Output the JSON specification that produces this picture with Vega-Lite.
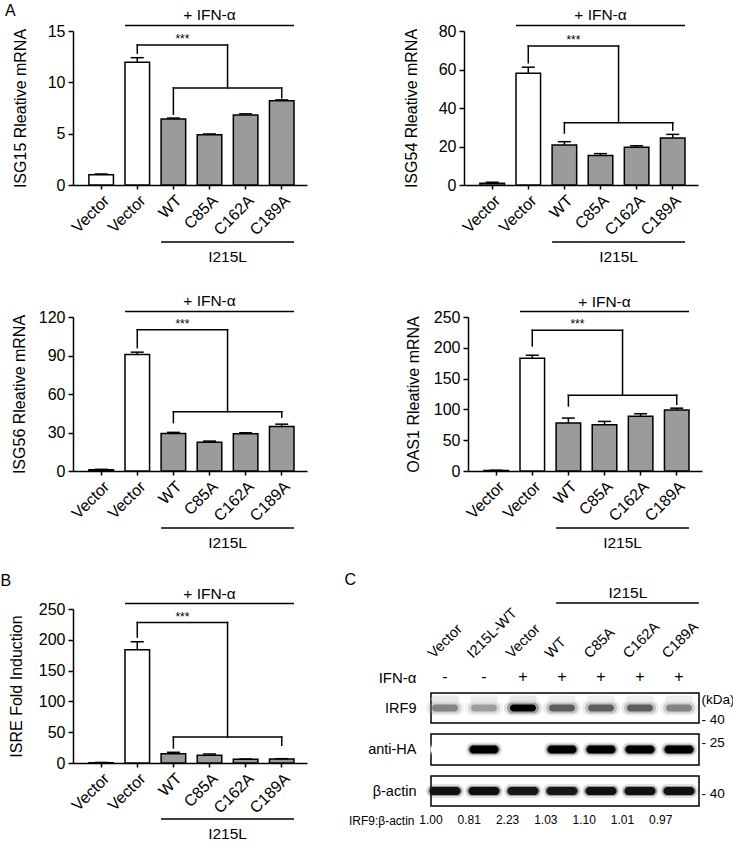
{
  "$schema": "https://vega.github.io/schema/vega-lite/v6.json",
  "padding": {"left": 0, "top": 3, "right": 0, "bottom": 0},
  "spacing": 20,
  "vconcat": [
    {
      "spacing": 28,
      "vconcat": [
        {
          "spacing": 95,
          "hconcat": [
            {
              "width": 234, "height": 154,
              "title": {"text": "A", "anchor": "start", "frame": "bounds", "dx": -7, "offset": -11},
              "resolve": {"axis": {"x": "independent", "y": "independent"}},
              "layer": [
                {"data": {"name": "isg15"}, "mark": {"type": "bar", "stroke": "black", "strokeWidth": 1.5},
                 "encoding": {
                   "x": {"field": "cat", "type": "nominal", "scale": {"domain": ["Vector|-", "Vector|+", "WT", "C85A", "C162A", "C189A"], "paddingInner": 0.32, "paddingOuter": 0.4, "align": 0.55}, "axis": {"title": null, "labelExpr": "split(datum.value, '|')[0]", "labelAngle": -45, "labelFontSize": 16, "tickSize": 4, "labelPadding": 3}},
                   "y": {"field": "value", "type": "quantitative", "scale": {"domain": [0, 15], "nice": false}, "axis": {"title": "ISG15 Rleative mRNA", "values": [0, 5, 10, 15], "labelOverlap": false, "titleX": -53, "titleBaseline": "middle", "tickSize": 5, "labelPadding": 3}},
                   "fill": {"field": "group", "type": "nominal", "scale": {"domain": ["control", "I215L"], "range": ["#ffffff", "#9b9b9b"]}, "legend": null}}},
                {"data": {"name": "isg15"}, "mark": {"type": "rule", "strokeWidth": 1.5},
                 "encoding": {"x": {"field": "cat", "type": "nominal", "axis": null}, "y": {"field": "value", "type": "quantitative", "axis": null}, "y2": {"field": "hi"}}},
                {"data": {"name": "isg15"}, "mark": {"type": "tick", "thickness": 1.5, "size": 13, "opacity": 1, "color": "black"},
                 "encoding": {"x": {"field": "cat", "type": "nominal", "axis": null}, "y": {"field": "hi", "type": "quantitative", "axis": null}}},
                {"data": {"name": "ann1"}, "transform": [{"filter": "datum.k == 'span'"}], "mark": {"type": "rule", "strokeWidth": 1.5},
                 "encoding": {"x": {"field": "a", "type": "nominal", "bandPosition": 0, "axis": null}, "x2": {"field": "b", "bandPosition": 1}, "y": {"field": "y", "type": "quantitative", "axis": null}}},
                {"data": {"name": "ann1"}, "transform": [{"filter": "datum.k == 'up'"}], "mark": {"type": "rule", "strokeWidth": 1.5, "strokeCap": "square"},
                 "encoding": {"x": {"field": "a", "type": "nominal", "axis": null}, "x2": {"field": "b", "bandPosition": 1.235}, "y": {"field": "y", "type": "quantitative", "axis": null}}},
                {"data": {"name": "ann1"}, "transform": [{"filter": "datum.k == 'lo'"}], "mark": {"type": "rule", "strokeWidth": 1.5, "strokeCap": "square"},
                 "encoding": {"x": {"field": "a", "type": "nominal", "axis": null}, "x2": {"field": "b"}, "y": {"field": "y", "type": "quantitative", "axis": null}}},
                {"data": {"name": "ann1"}, "transform": [{"filter": "datum.k == 'v'"}], "mark": {"type": "rule", "strokeWidth": 1.5, "strokeCap": "square"},
                 "encoding": {"x": {"field": "a", "type": "nominal", "axis": null}, "y": {"field": "y", "type": "quantitative", "axis": null}, "y2": {"field": "y2"}}},
                {"data": {"name": "ann1"}, "transform": [{"filter": "datum.k == 'mid'"}], "mark": {"type": "rule", "strokeWidth": 1.5, "strokeCap": "square"},
                 "encoding": {"x": {"field": "a", "type": "nominal", "bandPosition": 1.235, "axis": null}, "y": {"field": "y", "type": "quantitative", "axis": null}, "y2": {"field": "y2"}}},
                {"data": {"name": "ann1"}, "transform": [{"filter": "datum.k == 'tifn'"}], "mark": {"type": "text", "fontSize": 15.5, "baseline": "alphabetic", "dy": -5},
                 "encoding": {"x": {"field": "a", "type": "nominal", "axis": null}, "y": {"field": "y", "type": "quantitative", "axis": null}, "text": {"field": "label"}}},
                {"data": {"name": "ann1"}, "transform": [{"filter": "datum.k == 'tstar'"}], "mark": {"type": "text", "fontSize": 12, "baseline": "alphabetic", "dy": -2},
                 "encoding": {"x": {"field": "a", "type": "nominal", "bandPosition": 0.868, "axis": null}, "y": {"field": "y", "type": "quantitative", "axis": null}, "text": {"field": "label"}}},
                {"data": {"name": "ann1"}, "transform": [{"filter": "datum.k == 'ti'"}], "mark": {"type": "text", "fontSize": 15.5, "baseline": "alphabetic", "dy": 20},
                 "encoding": {"x": {"field": "a", "type": "nominal", "bandPosition": 1.235, "axis": null}, "y": {"field": "y", "type": "quantitative", "axis": null}, "text": {"field": "label"}}}
              ]
            },
            {
              "width": 234, "height": 154,
              "resolve": {"axis": {"x": "independent", "y": "independent"}},
              "layer": [
                {"data": {"name": "isg54"}, "mark": {"type": "bar", "stroke": "black", "strokeWidth": 1.5},
                 "encoding": {
                   "x": {"field": "cat", "type": "nominal", "scale": {"domain": ["Vector|-", "Vector|+", "WT", "C85A", "C162A", "C189A"], "paddingInner": 0.32, "paddingOuter": 0.4, "align": 0.55}, "axis": {"title": null, "labelExpr": "split(datum.value, '|')[0]", "labelAngle": -45, "labelFontSize": 16, "tickSize": 4, "labelPadding": 3}},
                   "y": {"field": "value", "type": "quantitative", "scale": {"domain": [0, 80], "nice": false}, "axis": {"title": "ISG54 Rleative mRNA", "values": [0, 20, 40, 60, 80], "labelOverlap": false, "titleX": -53, "titleBaseline": "middle", "tickSize": 5, "labelPadding": 3}},
                   "fill": {"field": "group", "type": "nominal", "scale": {"domain": ["control", "I215L"], "range": ["#ffffff", "#9b9b9b"]}, "legend": null}}},
                {"data": {"name": "isg54"}, "mark": {"type": "rule", "strokeWidth": 1.5},
                 "encoding": {"x": {"field": "cat", "type": "nominal", "axis": null}, "y": {"field": "value", "type": "quantitative", "axis": null}, "y2": {"field": "hi"}}},
                {"data": {"name": "isg54"}, "mark": {"type": "tick", "thickness": 1.5, "size": 13, "opacity": 1, "color": "black"},
                 "encoding": {"x": {"field": "cat", "type": "nominal", "axis": null}, "y": {"field": "hi", "type": "quantitative", "axis": null}}},
                {"data": {"name": "ann2"}, "transform": [{"filter": "datum.k == 'span'"}], "mark": {"type": "rule", "strokeWidth": 1.5},
                 "encoding": {"x": {"field": "a", "type": "nominal", "bandPosition": 0, "axis": null}, "x2": {"field": "b", "bandPosition": 1}, "y": {"field": "y", "type": "quantitative", "axis": null}}},
                {"data": {"name": "ann2"}, "transform": [{"filter": "datum.k == 'up'"}], "mark": {"type": "rule", "strokeWidth": 1.5, "strokeCap": "square"},
                 "encoding": {"x": {"field": "a", "type": "nominal", "axis": null}, "x2": {"field": "b", "bandPosition": 1.235}, "y": {"field": "y", "type": "quantitative", "axis": null}}},
                {"data": {"name": "ann2"}, "transform": [{"filter": "datum.k == 'lo'"}], "mark": {"type": "rule", "strokeWidth": 1.5, "strokeCap": "square"},
                 "encoding": {"x": {"field": "a", "type": "nominal", "axis": null}, "x2": {"field": "b"}, "y": {"field": "y", "type": "quantitative", "axis": null}}},
                {"data": {"name": "ann2"}, "transform": [{"filter": "datum.k == 'v'"}], "mark": {"type": "rule", "strokeWidth": 1.5, "strokeCap": "square"},
                 "encoding": {"x": {"field": "a", "type": "nominal", "axis": null}, "y": {"field": "y", "type": "quantitative", "axis": null}, "y2": {"field": "y2"}}},
                {"data": {"name": "ann2"}, "transform": [{"filter": "datum.k == 'mid'"}], "mark": {"type": "rule", "strokeWidth": 1.5, "strokeCap": "square"},
                 "encoding": {"x": {"field": "a", "type": "nominal", "bandPosition": 1.235, "axis": null}, "y": {"field": "y", "type": "quantitative", "axis": null}, "y2": {"field": "y2"}}},
                {"data": {"name": "ann2"}, "transform": [{"filter": "datum.k == 'tifn'"}], "mark": {"type": "text", "fontSize": 15.5, "baseline": "alphabetic", "dy": -5},
                 "encoding": {"x": {"field": "a", "type": "nominal", "axis": null}, "y": {"field": "y", "type": "quantitative", "axis": null}, "text": {"field": "label"}}},
                {"data": {"name": "ann2"}, "transform": [{"filter": "datum.k == 'tstar'"}], "mark": {"type": "text", "fontSize": 12, "baseline": "alphabetic", "dy": -2},
                 "encoding": {"x": {"field": "a", "type": "nominal", "bandPosition": 0.868, "axis": null}, "y": {"field": "y", "type": "quantitative", "axis": null}, "text": {"field": "label"}}},
                {"data": {"name": "ann2"}, "transform": [{"filter": "datum.k == 'ti'"}], "mark": {"type": "text", "fontSize": 15.5, "baseline": "alphabetic", "dy": 20},
                 "encoding": {"x": {"field": "a", "type": "nominal", "bandPosition": 1.235, "axis": null}, "y": {"field": "y", "type": "quantitative", "axis": null}, "text": {"field": "label"}}}
              ]
            }
          ]
        },
        {
          "spacing": 97,
          "hconcat": [
            {
              "width": 234, "height": 154,
              "resolve": {"axis": {"x": "independent", "y": "independent"}},
              "layer": [
                {"data": {"name": "isg56"}, "mark": {"type": "bar", "stroke": "black", "strokeWidth": 1.5},
                 "encoding": {
                   "x": {"field": "cat", "type": "nominal", "scale": {"domain": ["Vector|-", "Vector|+", "WT", "C85A", "C162A", "C189A"], "paddingInner": 0.32, "paddingOuter": 0.4, "align": 0.55}, "axis": {"title": null, "labelExpr": "split(datum.value, '|')[0]", "labelAngle": -45, "labelFontSize": 16, "tickSize": 4, "labelPadding": 3}},
                   "y": {"field": "value", "type": "quantitative", "scale": {"domain": [0, 120], "nice": false}, "axis": {"title": "ISG56 Rleative mRNA", "values": [0, 30, 60, 90, 120], "labelOverlap": false, "titleX": -54, "titleBaseline": "middle", "tickSize": 5, "labelPadding": 3}},
                   "fill": {"field": "group", "type": "nominal", "scale": {"domain": ["control", "I215L"], "range": ["#ffffff", "#9b9b9b"]}, "legend": null}}},
                {"data": {"name": "isg56"}, "mark": {"type": "rule", "strokeWidth": 1.5},
                 "encoding": {"x": {"field": "cat", "type": "nominal", "axis": null}, "y": {"field": "value", "type": "quantitative", "axis": null}, "y2": {"field": "hi"}}},
                {"data": {"name": "isg56"}, "mark": {"type": "tick", "thickness": 1.5, "size": 13, "opacity": 1, "color": "black"},
                 "encoding": {"x": {"field": "cat", "type": "nominal", "axis": null}, "y": {"field": "hi", "type": "quantitative", "axis": null}}},
                {"data": {"name": "ann3"}, "transform": [{"filter": "datum.k == 'span'"}], "mark": {"type": "rule", "strokeWidth": 1.5},
                 "encoding": {"x": {"field": "a", "type": "nominal", "bandPosition": 0, "axis": null}, "x2": {"field": "b", "bandPosition": 1}, "y": {"field": "y", "type": "quantitative", "axis": null}}},
                {"data": {"name": "ann3"}, "transform": [{"filter": "datum.k == 'up'"}], "mark": {"type": "rule", "strokeWidth": 1.5, "strokeCap": "square"},
                 "encoding": {"x": {"field": "a", "type": "nominal", "axis": null}, "x2": {"field": "b", "bandPosition": 1.235}, "y": {"field": "y", "type": "quantitative", "axis": null}}},
                {"data": {"name": "ann3"}, "transform": [{"filter": "datum.k == 'lo'"}], "mark": {"type": "rule", "strokeWidth": 1.5, "strokeCap": "square"},
                 "encoding": {"x": {"field": "a", "type": "nominal", "axis": null}, "x2": {"field": "b"}, "y": {"field": "y", "type": "quantitative", "axis": null}}},
                {"data": {"name": "ann3"}, "transform": [{"filter": "datum.k == 'v'"}], "mark": {"type": "rule", "strokeWidth": 1.5, "strokeCap": "square"},
                 "encoding": {"x": {"field": "a", "type": "nominal", "axis": null}, "y": {"field": "y", "type": "quantitative", "axis": null}, "y2": {"field": "y2"}}},
                {"data": {"name": "ann3"}, "transform": [{"filter": "datum.k == 'mid'"}], "mark": {"type": "rule", "strokeWidth": 1.5, "strokeCap": "square"},
                 "encoding": {"x": {"field": "a", "type": "nominal", "bandPosition": 1.235, "axis": null}, "y": {"field": "y", "type": "quantitative", "axis": null}, "y2": {"field": "y2"}}},
                {"data": {"name": "ann3"}, "transform": [{"filter": "datum.k == 'tifn'"}], "mark": {"type": "text", "fontSize": 15.5, "baseline": "alphabetic", "dy": -5},
                 "encoding": {"x": {"field": "a", "type": "nominal", "axis": null}, "y": {"field": "y", "type": "quantitative", "axis": null}, "text": {"field": "label"}}},
                {"data": {"name": "ann3"}, "transform": [{"filter": "datum.k == 'tstar'"}], "mark": {"type": "text", "fontSize": 12, "baseline": "alphabetic", "dy": -2},
                 "encoding": {"x": {"field": "a", "type": "nominal", "bandPosition": 0.868, "axis": null}, "y": {"field": "y", "type": "quantitative", "axis": null}, "text": {"field": "label"}}},
                {"data": {"name": "ann3"}, "transform": [{"filter": "datum.k == 'ti'"}], "mark": {"type": "text", "fontSize": 15.5, "baseline": "alphabetic", "dy": 20},
                 "encoding": {"x": {"field": "a", "type": "nominal", "bandPosition": 1.235, "axis": null}, "y": {"field": "y", "type": "quantitative", "axis": null}, "text": {"field": "label"}}}
              ]
            },
            {
              "width": 234, "height": 154,
              "resolve": {"axis": {"x": "independent", "y": "independent"}},
              "layer": [
                {"data": {"name": "oas1"}, "mark": {"type": "bar", "stroke": "black", "strokeWidth": 1.5},
                 "encoding": {
                   "x": {"field": "cat", "type": "nominal", "scale": {"domain": ["Vector|-", "Vector|+", "WT", "C85A", "C162A", "C189A"], "paddingInner": 0.32, "paddingOuter": 0.4, "align": 0.55}, "axis": {"title": null, "labelExpr": "split(datum.value, '|')[0]", "labelAngle": -45, "labelFontSize": 16, "tickSize": 4, "labelPadding": 3}},
                   "y": {"field": "value", "type": "quantitative", "scale": {"domain": [0, 250], "nice": false}, "axis": {"title": "OAS1 Rleative mRNA", "values": [0, 50, 100, 150, 200, 250], "labelOverlap": false, "titleX": -55, "titleBaseline": "middle", "tickSize": 5, "labelPadding": 3}},
                   "fill": {"field": "group", "type": "nominal", "scale": {"domain": ["control", "I215L"], "range": ["#ffffff", "#9b9b9b"]}, "legend": null}}},
                {"data": {"name": "oas1"}, "mark": {"type": "rule", "strokeWidth": 1.5},
                 "encoding": {"x": {"field": "cat", "type": "nominal", "axis": null}, "y": {"field": "value", "type": "quantitative", "axis": null}, "y2": {"field": "hi"}}},
                {"data": {"name": "oas1"}, "mark": {"type": "tick", "thickness": 1.5, "size": 13, "opacity": 1, "color": "black"},
                 "encoding": {"x": {"field": "cat", "type": "nominal", "axis": null}, "y": {"field": "hi", "type": "quantitative", "axis": null}}},
                {"data": {"name": "ann4"}, "transform": [{"filter": "datum.k == 'span'"}], "mark": {"type": "rule", "strokeWidth": 1.5},
                 "encoding": {"x": {"field": "a", "type": "nominal", "bandPosition": 0, "axis": null}, "x2": {"field": "b", "bandPosition": 1}, "y": {"field": "y", "type": "quantitative", "axis": null}}},
                {"data": {"name": "ann4"}, "transform": [{"filter": "datum.k == 'up'"}], "mark": {"type": "rule", "strokeWidth": 1.5, "strokeCap": "square"},
                 "encoding": {"x": {"field": "a", "type": "nominal", "axis": null}, "x2": {"field": "b", "bandPosition": 1.235}, "y": {"field": "y", "type": "quantitative", "axis": null}}},
                {"data": {"name": "ann4"}, "transform": [{"filter": "datum.k == 'lo'"}], "mark": {"type": "rule", "strokeWidth": 1.5, "strokeCap": "square"},
                 "encoding": {"x": {"field": "a", "type": "nominal", "axis": null}, "x2": {"field": "b"}, "y": {"field": "y", "type": "quantitative", "axis": null}}},
                {"data": {"name": "ann4"}, "transform": [{"filter": "datum.k == 'v'"}], "mark": {"type": "rule", "strokeWidth": 1.5, "strokeCap": "square"},
                 "encoding": {"x": {"field": "a", "type": "nominal", "axis": null}, "y": {"field": "y", "type": "quantitative", "axis": null}, "y2": {"field": "y2"}}},
                {"data": {"name": "ann4"}, "transform": [{"filter": "datum.k == 'mid'"}], "mark": {"type": "rule", "strokeWidth": 1.5, "strokeCap": "square"},
                 "encoding": {"x": {"field": "a", "type": "nominal", "bandPosition": 1.235, "axis": null}, "y": {"field": "y", "type": "quantitative", "axis": null}, "y2": {"field": "y2"}}},
                {"data": {"name": "ann4"}, "transform": [{"filter": "datum.k == 'tifn'"}], "mark": {"type": "text", "fontSize": 15.5, "baseline": "alphabetic", "dy": -5},
                 "encoding": {"x": {"field": "a", "type": "nominal", "axis": null}, "y": {"field": "y", "type": "quantitative", "axis": null}, "text": {"field": "label"}}},
                {"data": {"name": "ann4"}, "transform": [{"filter": "datum.k == 'tstar'"}], "mark": {"type": "text", "fontSize": 12, "baseline": "alphabetic", "dy": -2},
                 "encoding": {"x": {"field": "a", "type": "nominal", "bandPosition": 0.868, "axis": null}, "y": {"field": "y", "type": "quantitative", "axis": null}, "text": {"field": "label"}}},
                {"data": {"name": "ann4"}, "transform": [{"filter": "datum.k == 'ti'"}], "mark": {"type": "text", "fontSize": 15.5, "baseline": "alphabetic", "dy": 20},
                 "encoding": {"x": {"field": "a", "type": "nominal", "bandPosition": 1.235, "axis": null}, "y": {"field": "y", "type": "quantitative", "axis": null}, "text": {"field": "label"}}}
              ]
            }
          ]
        }
      ]
    },
    {
      "concat": [
        {
          "width": 234, "height": 154,
          "title": {"text": "B", "anchor": "start", "frame": "bounds", "dx": -7.5, "offset": -2},
          "resolve": {"axis": {"x": "independent", "y": "independent"}},
          "layer": [
            {"data": {"name": "isre"}, "mark": {"type": "bar", "stroke": "black", "strokeWidth": 1.5},
             "encoding": {
               "x": {"field": "cat", "type": "nominal", "scale": {"domain": ["Vector|-", "Vector|+", "WT", "C85A", "C162A", "C189A"], "paddingInner": 0.32, "paddingOuter": 0.4, "align": 0.55}, "axis": {"title": null, "labelExpr": "split(datum.value, '|')[0]", "labelAngle": -45, "labelFontSize": 16, "tickSize": 4, "labelPadding": 3}},
               "y": {"field": "value", "type": "quantitative", "scale": {"domain": [0, 250], "nice": false}, "axis": {"title": "ISRE Fold Induction", "values": [0, 50, 100, 150, 200, 250], "labelOverlap": false, "titleX": -57, "titleBaseline": "middle", "tickSize": 5, "labelPadding": 3}},
               "fill": {"field": "group", "type": "nominal", "scale": {"domain": ["control", "I215L"], "range": ["#ffffff", "#9b9b9b"]}, "legend": null}}},
            {"data": {"name": "isre"}, "mark": {"type": "rule", "strokeWidth": 1.5},
             "encoding": {"x": {"field": "cat", "type": "nominal", "axis": null}, "y": {"field": "value", "type": "quantitative", "axis": null}, "y2": {"field": "hi"}}},
            {"data": {"name": "isre"}, "mark": {"type": "tick", "thickness": 1.5, "size": 13, "opacity": 1, "color": "black"},
             "encoding": {"x": {"field": "cat", "type": "nominal", "axis": null}, "y": {"field": "hi", "type": "quantitative", "axis": null}}},
            {"data": {"name": "ann5"}, "transform": [{"filter": "datum.k == 'span'"}], "mark": {"type": "rule", "strokeWidth": 1.5},
             "encoding": {"x": {"field": "a", "type": "nominal", "bandPosition": 0, "axis": null}, "x2": {"field": "b", "bandPosition": 1}, "y": {"field": "y", "type": "quantitative", "axis": null}}},
            {"data": {"name": "ann5"}, "transform": [{"filter": "datum.k == 'up'"}], "mark": {"type": "rule", "strokeWidth": 1.5, "strokeCap": "square"},
             "encoding": {"x": {"field": "a", "type": "nominal", "axis": null}, "x2": {"field": "b", "bandPosition": 1.235}, "y": {"field": "y", "type": "quantitative", "axis": null}}},
            {"data": {"name": "ann5"}, "transform": [{"filter": "datum.k == 'lo'"}], "mark": {"type": "rule", "strokeWidth": 1.5, "strokeCap": "square"},
             "encoding": {"x": {"field": "a", "type": "nominal", "axis": null}, "x2": {"field": "b"}, "y": {"field": "y", "type": "quantitative", "axis": null}}},
            {"data": {"name": "ann5"}, "transform": [{"filter": "datum.k == 'v'"}], "mark": {"type": "rule", "strokeWidth": 1.5, "strokeCap": "square"},
             "encoding": {"x": {"field": "a", "type": "nominal", "axis": null}, "y": {"field": "y", "type": "quantitative", "axis": null}, "y2": {"field": "y2"}}},
            {"data": {"name": "ann5"}, "transform": [{"filter": "datum.k == 'mid'"}], "mark": {"type": "rule", "strokeWidth": 1.5, "strokeCap": "square"},
             "encoding": {"x": {"field": "a", "type": "nominal", "bandPosition": 1.235, "axis": null}, "y": {"field": "y", "type": "quantitative", "axis": null}, "y2": {"field": "y2"}}},
            {"data": {"name": "ann5"}, "transform": [{"filter": "datum.k == 'tifn'"}], "mark": {"type": "text", "fontSize": 15.5, "baseline": "alphabetic", "dy": -5},
             "encoding": {"x": {"field": "a", "type": "nominal", "axis": null}, "y": {"field": "y", "type": "quantitative", "axis": null}, "text": {"field": "label"}}},
            {"data": {"name": "ann5"}, "transform": [{"filter": "datum.k == 'tstar'"}], "mark": {"type": "text", "fontSize": 12, "baseline": "alphabetic", "dy": -2},
             "encoding": {"x": {"field": "a", "type": "nominal", "bandPosition": 0.868, "axis": null}, "y": {"field": "y", "type": "quantitative", "axis": null}, "text": {"field": "label"}}},
            {"data": {"name": "ann5"}, "transform": [{"filter": "datum.k == 'ti'"}], "mark": {"type": "text", "fontSize": 15.5, "baseline": "alphabetic", "dy": 20},
             "encoding": {"x": {"field": "a", "type": "nominal", "bandPosition": 1.235, "axis": null}, "y": {"field": "y", "type": "quantitative", "axis": null}, "text": {"field": "label"}}}
          ]
        },
        {
          "title": {"text": "C", "anchor": "start", "frame": "bounds", "dx": -4, "offset": -2},
          "spacing": 11,
          "bounds": "flush",
          "vconcat": [
            {
              "width": 268, "height": 73,
              "layer": [
                {"data": {"name": "lanes"}, "mark": {"type": "text", "angle": 315, "align": "left", "baseline": "alphabetic", "fontSize": 14.5},
                 "encoding": {"x": {"field": "lane", "type": "nominal", "bandPosition": 0.1, "scale": {"domain": ["Vector|-", "I215L-WT", "Vector|+", "WT", "C85A", "C162A", "C189A"], "paddingInner": 0.282, "paddingOuter": 0.077, "align": 0}, "axis": null},
                              "y": {"datum": 0.315, "type": "quantitative", "scale": {"domain": [0, 1], "nice": false}},
                              "text": {"field": "label"}}},
                {"data": {"name": "lanes"}, "mark": {"type": "text", "fontSize": 16, "baseline": "middle"},
                 "encoding": {"x": {"field": "lane", "type": "nominal", "axis": null},
                              "y": {"datum": 0.068, "type": "quantitative", "axis": {"values": [0.068], "labelExpr": "'IFN-α'", "ticks": false, "tickSize": 0, "domain": false, "labelPadding": 15, "labelFontSize": 15, "title": null}},
                              "text": {"field": "ifn"}}},
                {"data": {"values": [{"a": "WT", "b": "C189A"}]}, "mark": {"type": "rule", "strokeWidth": 1.5},
                 "encoding": {"x": {"field": "a", "type": "nominal", "bandPosition": 0.29, "axis": null}, "x2": {"field": "b", "bandPosition": 1.21}, "y": {"datum": 1.082, "type": "quantitative"}}},
                {"data": {"values": [{"a": "C162A", "t": "I215L"}]}, "mark": {"type": "text", "fontSize": 15.5, "baseline": "alphabetic", "dy": -5},
                 "encoding": {"x": {"field": "a", "type": "nominal", "bandPosition": 0.07, "axis": null}, "y": {"datum": 1.082, "type": "quantitative"}, "text": {"field": "t"}}}
              ]
            },
            {
              "width": 268, "height": 30,
              "view": {"stroke": "black", "strokeWidth": 1.5},
              "data": {"name": "lanes"},
              "layer": [
                {"mark": {"type": "tick", "size": 38, "thickness": 15, "cornerRadius": 7.5, "opacity": 0.12},
                 "encoding": {"x": {"field": "lane", "type": "nominal", "scale": {"domain": ["Vector|-", "I215L-WT", "Vector|+", "WT", "C85A", "C162A", "C189A"], "paddingInner": 0.282, "paddingOuter": 0.077, "align": 0}, "axis": null},
                              "y": {"datum": 0.5, "type": "quantitative", "scale": {"domain": [0, 1], "nice": false}, "axis": {"values": [0.5], "labelExpr": "'IRF9'", "ticks": false, "tickSize": 0, "domain": false, "labelPadding": 15, "labelFontSize": 14.5, "title": null}},
                              "color": {"field": "irf9", "type": "quantitative", "scale": {"domain": [0, 1], "range": ["#ffffff", "#000000"]}, "legend": null}}},
                {"mark": {"type": "tick", "size": 32, "thickness": 11, "cornerRadius": 5.5, "opacity": 0.3},
                 "encoding": {"x": {"field": "lane", "type": "nominal", "axis": null},
                              "y": {"datum": 0.5, "type": "quantitative", "axis": {"orient": "right", "values": [0.13, 0.77], "labelExpr": "datum.value > 0.5 ? '(kDa)' : '- 40'", "ticks": false, "tickSize": 0, "domain": false, "labelPadding": 2, "labelFontSize": 13.5, "title": null}},
                              "color": {"field": "irf9", "type": "quantitative", "legend": null}}},
                {"mark": {"type": "tick", "size": 26, "thickness": 7, "cornerRadius": 3.5, "opacity": 1},
                 "encoding": {"x": {"field": "lane", "type": "nominal", "axis": null},
                              "y": {"datum": 0.5, "type": "quantitative", "axis": null},
                              "color": {"field": "irf9", "type": "quantitative", "legend": null}}},
                {"mark": {"type": "tick", "size": 28, "thickness": 7, "cornerRadius": 3.5, "opacity": 0.5},
                 "encoding": {"x": {"field": "lane", "type": "nominal", "axis": null},
                              "y": {"datum": 0.8, "type": "quantitative", "axis": null},
                              "color": {"field": "irf9b", "type": "quantitative", "legend": null}}}
              ],
              "resolve": {"axis": {"y": "independent"}}
            },
            {
              "width": 268, "height": 31,
              "view": {"stroke": "black", "strokeWidth": 1.5},
              "data": {"name": "lanes"},
              "layer": [
                {"mark": {"type": "tick", "size": 36, "thickness": 14, "cornerRadius": 7, "opacity": 0.12},
                 "encoding": {"x": {"field": "lane", "type": "nominal", "scale": {"domain": ["Vector|-", "I215L-WT", "Vector|+", "WT", "C85A", "C162A", "C189A"], "paddingInner": 0.282, "paddingOuter": 0.077, "align": 0}, "axis": null},
                              "y": {"datum": 0.5, "type": "quantitative", "scale": {"domain": [0, 1], "nice": false}, "axis": {"values": [0.5], "labelExpr": "'anti-HA'", "ticks": false, "tickSize": 0, "domain": false, "labelPadding": 15, "labelFontSize": 14.5, "title": null}},
                              "color": {"field": "ha", "type": "quantitative", "scale": {"domain": [0, 1], "range": ["#ffffff", "#000000"]}, "legend": null}}},
                {"mark": {"type": "tick", "size": 32, "thickness": 10, "cornerRadius": 5, "opacity": 0.35},
                 "encoding": {"x": {"field": "lane", "type": "nominal", "axis": null},
                              "y": {"datum": 0.5, "type": "quantitative", "axis": {"orient": "right", "values": [0.71], "labelExpr": "'- 25'", "ticks": false, "tickSize": 0, "domain": false, "labelPadding": 2, "labelFontSize": 13.5, "title": null}},
                              "color": {"field": "ha", "type": "quantitative", "legend": null}}},
                {"mark": {"type": "tick", "size": 29, "thickness": 8, "cornerRadius": 4, "opacity": 1},
                 "encoding": {"x": {"field": "lane", "type": "nominal", "axis": null},
                              "y": {"datum": 0.5, "type": "quantitative", "axis": null},
                              "color": {"field": "ha", "type": "quantitative", "legend": null}}}
              ],
              "resolve": {"axis": {"y": "independent"}}
            },
            {
              "width": 268, "height": 30,
              "view": {"stroke": "black", "strokeWidth": 1.5},
              "data": {"name": "lanes"},
              "layer": [
                {"mark": {"type": "tick", "size": 38, "thickness": 14, "cornerRadius": 7, "opacity": 0.12},
                 "encoding": {"x": {"field": "lane", "type": "nominal", "scale": {"domain": ["Vector|-", "I215L-WT", "Vector|+", "WT", "C85A", "C162A", "C189A"], "paddingInner": 0.282, "paddingOuter": 0.077, "align": 0}, "axis": null},
                              "y": {"datum": 0.5, "type": "quantitative", "scale": {"domain": [0, 1], "nice": false}, "axis": {"values": [0.5], "labelExpr": "'β-actin'", "ticks": false, "tickSize": 0, "domain": false, "labelPadding": 15, "labelFontSize": 14.5, "title": null}},
                              "color": {"field": "actin", "type": "quantitative", "scale": {"domain": [0, 1], "range": ["#ffffff", "#000000"]}, "legend": null}}},
                {"mark": {"type": "tick", "size": 34, "thickness": 10, "cornerRadius": 5, "opacity": 0.35},
                 "encoding": {"x": {"field": "lane", "type": "nominal", "axis": null},
                              "y": {"datum": 0.5, "type": "quantitative", "axis": {"orient": "right", "values": [0.43], "labelExpr": "'- 40'", "ticks": false, "tickSize": 0, "domain": false, "labelPadding": 2, "labelFontSize": 13.5, "title": null}},
                              "color": {"field": "actin", "type": "quantitative", "legend": null}}},
                {"mark": {"type": "tick", "size": 31, "thickness": 8, "cornerRadius": 4, "opacity": 1},
                 "encoding": {"x": {"field": "lane", "type": "nominal", "axis": null},
                              "y": {"datum": 0.5, "type": "quantitative", "axis": null},
                              "color": {"field": "actin", "type": "quantitative", "legend": null}}}
              ],
              "resolve": {"axis": {"y": "independent"}}
            },
            {
              "width": 268, "height": 6,
              "data": {"name": "lanes"},
              "mark": {"type": "text", "fontSize": 12, "baseline": "middle"},
              "encoding": {"x": {"field": "lane", "type": "nominal", "scale": {"domain": ["Vector|-", "I215L-WT", "Vector|+", "WT", "C85A", "C162A", "C189A"], "paddingInner": 0.282, "paddingOuter": 0.077, "align": 0}, "axis": null},
                           "y": {"datum": 0.5, "type": "quantitative", "scale": {"domain": [0, 1], "nice": false}, "axis": {"values": [0.5], "labelExpr": "'IRF9:β-actin'", "ticks": false, "tickSize": 0, "domain": false, "labelPadding": 17, "labelFontSize": 12, "title": null}},
                           "text": {"field": "ratio"}}
            }
          ]
        }
      ],
      "columns": 2,
      "spacing": 37
    }
  ],
  "datasets": {
    "isg15": [
      {"cat": "Vector|-", "group": "control", "value": 1.0, "hi": 1.07},
      {"cat": "Vector|+", "group": "control", "value": 11.95, "hi": 12.4},
      {"cat": "WT", "group": "I215L", "value": 6.42, "hi": 6.52},
      {"cat": "C85A", "group": "I215L", "value": 4.9, "hi": 4.97},
      {"cat": "C162A", "group": "I215L", "value": 6.82, "hi": 6.93},
      {"cat": "C189A", "group": "I215L", "value": 8.2, "hi": 8.29}
    ],
    "isg54": [
      {"cat": "Vector|-", "group": "control", "value": 0.9, "hi": 1.4},
      {"cat": "Vector|+", "group": "control", "value": 58.0, "hi": 61.2},
      {"cat": "WT", "group": "I215L", "value": 20.8, "hi": 22.5},
      {"cat": "C85A", "group": "I215L", "value": 15.3, "hi": 16.3},
      {"cat": "C162A", "group": "I215L", "value": 19.6, "hi": 20.4},
      {"cat": "C189A", "group": "I215L", "value": 24.4, "hi": 26.3}
    ],
    "isg56": [
      {"cat": "Vector|-", "group": "control", "value": 1.0, "hi": 1.3},
      {"cat": "Vector|+", "group": "control", "value": 90.8, "hi": 92.6},
      {"cat": "WT", "group": "I215L", "value": 29.3, "hi": 30.1},
      {"cat": "C85A", "group": "I215L", "value": 22.5, "hi": 23.3},
      {"cat": "C162A", "group": "I215L", "value": 29.0, "hi": 29.8},
      {"cat": "C189A", "group": "I215L", "value": 34.7, "hi": 36.5}
    ],
    "oas1": [
      {"cat": "Vector|-", "group": "control", "value": 0.8, "hi": 1.2},
      {"cat": "Vector|+", "group": "control", "value": 183.0, "hi": 187.9},
      {"cat": "WT", "group": "I215L", "value": 77.8, "hi": 85.9},
      {"cat": "C85A", "group": "I215L", "value": 75.0, "hi": 80.5},
      {"cat": "C162A", "group": "I215L", "value": 89.0, "hi": 92.9},
      {"cat": "C189A", "group": "I215L", "value": 99.0, "hi": 102.0}
    ],
    "isre": [
      {"cat": "Vector|-", "group": "control", "value": 0.6, "hi": 0.9},
      {"cat": "Vector|+", "group": "control", "value": 183.8, "hi": 196.8},
      {"cat": "WT", "group": "I215L", "value": 15.2, "hi": 17.4},
      {"cat": "C85A", "group": "I215L", "value": 12.5, "hi": 14.6},
      {"cat": "C162A", "group": "I215L", "value": 6.0, "hi": 6.5},
      {"cat": "C189A", "group": "I215L", "value": 6.5, "hi": 7.0}
    ],
    "ann1": [
      {"k": "span", "a": "Vector|+", "b": "C189A", "y": 15.54},
      {"k": "span", "a": "WT", "b": "C189A", "y": -5.55},
      {"k": "up", "a": "Vector|+", "b": "C85A", "y": 13.63},
      {"k": "lo", "a": "WT", "b": "C189A", "y": 9.45},
      {"k": "v", "a": "Vector|+", "y": 13.63, "y2": 12.85},
      {"k": "v", "a": "WT", "y": 9.45, "y2": 6.9},
      {"k": "v", "a": "C189A", "y": 9.45, "y2": 8.5},
      {"k": "mid", "a": "C85A", "y": 13.63, "y2": 9.45},
      {"k": "tifn", "a": "C85A", "y": 15.54, "label": "+ IFN-α"},
      {"k": "tstar", "a": "WT", "y": 13.63, "label": "***"},
      {"k": "ti", "a": "C85A", "y": -5.55, "label": "I215L"}
    ],
    "ann2": [
      {"k": "span", "a": "Vector|+", "b": "C189A", "y": 82.86},
      {"k": "span", "a": "WT", "b": "C189A", "y": -29.6},
      {"k": "up", "a": "Vector|+", "b": "C85A", "y": 72.2},
      {"k": "lo", "a": "WT", "b": "C189A", "y": 32.4},
      {"k": "v", "a": "Vector|+", "y": 72.2, "y2": 63.5},
      {"k": "v", "a": "WT", "y": 32.4, "y2": 27.0},
      {"k": "v", "a": "C189A", "y": 32.4, "y2": 28.5},
      {"k": "mid", "a": "C85A", "y": 72.2, "y2": 32.4},
      {"k": "tifn", "a": "C85A", "y": 82.86, "label": "+ IFN-α"},
      {"k": "tstar", "a": "WT", "y": 72.2, "label": "***"},
      {"k": "ti", "a": "C85A", "y": -29.6, "label": "I215L"}
    ],
    "ann3": [
      {"k": "span", "a": "Vector|+", "b": "C189A", "y": 124.3},
      {"k": "span", "a": "WT", "b": "C189A", "y": -44.4},
      {"k": "up", "a": "Vector|+", "b": "C85A", "y": 110.0},
      {"k": "lo", "a": "WT", "b": "C189A", "y": 46.2},
      {"k": "v", "a": "Vector|+", "y": 110.0, "y2": 96.1},
      {"k": "v", "a": "WT", "y": 46.2, "y2": 37.7},
      {"k": "v", "a": "C189A", "y": 46.2, "y2": 42.0},
      {"k": "mid", "a": "C85A", "y": 110.0, "y2": 46.2},
      {"k": "tifn", "a": "C85A", "y": 124.3, "label": "+ IFN-α"},
      {"k": "tstar", "a": "WT", "y": 110.0, "label": "***"},
      {"k": "ti", "a": "C85A", "y": -44.4, "label": "I215L"}
    ],
    "ann4": [
      {"k": "span", "a": "Vector|+", "b": "C189A", "y": 258.9},
      {"k": "span", "a": "WT", "b": "C189A", "y": -92.5},
      {"k": "up", "a": "Vector|+", "b": "C85A", "y": 228.4},
      {"k": "lo", "a": "WT", "b": "C189A", "y": 122.9},
      {"k": "v", "a": "Vector|+", "y": 228.4, "y2": 203.0},
      {"k": "v", "a": "WT", "y": 122.9, "y2": 105.5},
      {"k": "v", "a": "C189A", "y": 122.9, "y2": 108.2},
      {"k": "mid", "a": "C85A", "y": 228.4, "y2": 122.9},
      {"k": "tifn", "a": "C85A", "y": 258.9, "label": "+ IFN-α"},
      {"k": "tstar", "a": "WT", "y": 228.4, "label": "***"},
      {"k": "ti", "a": "C85A", "y": -92.5, "label": "I215L"}
    ],
    "ann5": [
      {"k": "span", "a": "Vector|+", "b": "C189A", "y": 258.9},
      {"k": "span", "a": "WT", "b": "C189A", "y": -91.0},
      {"k": "up", "a": "Vector|+", "b": "C85A", "y": 228.0},
      {"k": "lo", "a": "WT", "b": "C189A", "y": 42.2},
      {"k": "v", "a": "Vector|+", "y": 228.0, "y2": 204.5},
      {"k": "v", "a": "WT", "y": 42.2, "y2": 24.4},
      {"k": "v", "a": "C189A", "y": 42.2, "y2": 28.7},
      {"k": "mid", "a": "C85A", "y": 228.0, "y2": 42.2},
      {"k": "tifn", "a": "C85A", "y": 258.9, "label": "+ IFN-α"},
      {"k": "tstar", "a": "WT", "y": 228.0, "label": "***"},
      {"k": "ti", "a": "C85A", "y": -91.0, "label": "I215L"}
    ],
    "lanes": [
      {"lane": "Vector|-", "label": "Vector", "ifn": "-", "ratio": "1.00", "irf9": 0.45, "irf9b": 0.15, "ha": 0, "actin": 0.95},
      {"lane": "I215L-WT", "label": "I215L-WT", "ifn": "-", "ratio": "0.81", "irf9": 0.35, "irf9b": 0.12, "ha": 1, "actin": 0.95},
      {"lane": "Vector|+", "label": "Vector", "ifn": "+", "ratio": "2.23", "irf9": 1, "irf9b": 0.15, "ha": 0, "actin": 0.92},
      {"lane": "WT", "label": "WT", "ifn": "+", "ratio": "1.03", "irf9": 0.6, "irf9b": 0.1, "ha": 1, "actin": 0.92},
      {"lane": "C85A", "label": "C85A", "ifn": "+", "ratio": "1.10", "irf9": 0.6, "irf9b": 0.1, "ha": 1, "actin": 0.95},
      {"lane": "C162A", "label": "C162A", "ifn": "+", "ratio": "1.01", "irf9": 0.6, "irf9b": 0.1, "ha": 1, "actin": 0.95},
      {"lane": "C189A", "label": "C189A", "ifn": "+", "ratio": "0.97", "irf9": 0.45, "irf9b": 0.12, "ha": 1, "actin": 0.95}
    ]
  },
  "config": {
    "font": "Liberation Sans",
    "view": {"stroke": null},
    "axis": {"labelFont": "Liberation Sans", "titleFont": "Liberation Sans", "labelFontSize": 16, "titleFontSize": 16, "titleFontWeight": "normal", "labelColor": "black", "titleColor": "black", "domainColor": "black", "tickColor": "black", "domainWidth": 1.5, "tickWidth": 1.5, "grid": false},
    "title": {"font": "Liberation Sans", "fontSize": 16, "fontWeight": "normal", "color": "black"},
    "text": {"font": "Liberation Sans", "color": "black"},
    "rule": {"color": "black"}
  }
}
